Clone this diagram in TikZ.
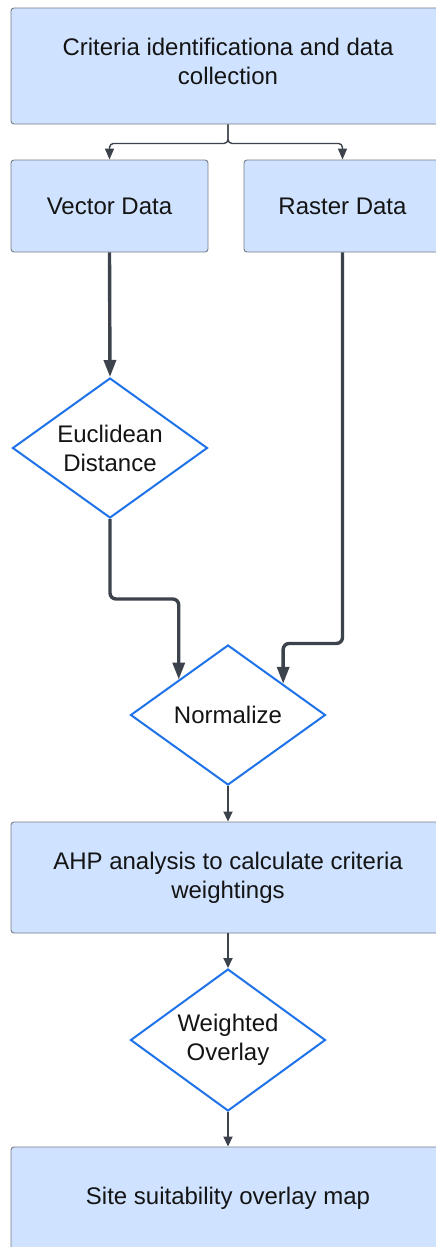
\documentclass[tikz,border=0pt]{standalone}
\usepackage{fontspec}
\setmainfont{Liberation Sans}
\usetikzlibrary{shapes.geometric,arrows.meta,calc}
\definecolor{boxfill}{RGB}{207,226,255}
\definecolor{boxline}{RGB}{120,126,138}
\definecolor{dia}{RGB}{30,115,232}
\definecolor{arr}{RGB}{61,67,77}
\definecolor{txt}{RGB}{20,20,20}
\tikzset{
  procbox/.style={draw=boxline, line width=0.9pt, fill=boxfill, rounded corners=3pt, inner sep=0pt, align=center, text=txt, font=\fontsize{24}{29}\selectfont},
  decbox/.style={diamond, draw=dia, line width=2pt, fill=white, aspect=1.393, inner sep=0pt, minimum width=195pt, minimum height=140pt, align=center, text=txt, font=\fontsize{24}{29}\selectfont},
  thinarr/.style={draw=arr, line width=1.8pt, -{Triangle[length=10pt,width=9pt]}},
  forkarr/.style={draw=arr, line width=1.4pt, rounded corners=4pt, -{Triangle[length=11pt,width=9pt]}},
  thickarr/.style={draw=arr, line width=3.4pt, rounded corners=6pt, -{Triangle[length=17pt,width=12pt]}}
}
\begin{document}
\begin{tikzpicture}[x=1pt,y=-1pt]
\clip (0,0) rectangle (436,1247);
\fill[white] (0,0) rectangle (436,1247);
\node[procbox, minimum width=434pt, minimum height=116pt, text depth=9pt] (top) at (228,66) {Criteria identificationa and data\\collection};
\node[procbox, minimum width=197pt, minimum height=92pt] (vec) at (109.5,206) {Vector Data};
\node[procbox, minimum width=197pt, minimum height=92pt] (ras) at (342.5,206) {Raster Data};
\node[decbox] (euc) at (110,448) {Euclidean\\Distance};
\node[decbox] (norm) at (228,715) {Normalize};
\node[procbox, minimum width=434pt, minimum height=111pt] (ahp) at (228,877.5) {AHP analysis to calculate criteria\\weightings};
\node[decbox, minimum height=142pt] (wo) at (228,1040) {Weighted\\Overlay};
\node[procbox, minimum width=434pt, minimum height=112pt, text depth=15pt] (site) at (228,1203) {Site suitability overlay map};
\coordinate (nl) at ($(norm.north)!0.5!(norm.west)$);
\coordinate (nr) at ($(norm.north)!0.56!(norm.east)$);
\draw[forkarr] (top.south) -- ++(0,19) -| (vec.north);
\draw[forkarr] (top.south) -- ++(0,19) -| (ras.north);
\draw[thickarr] (vec.south) -- (euc.north);
\draw[thickarr] (euc.south) -- ++(0,80) -| (nl);
\draw[thickarr] (ras.south) -- ++(0,391) -| (nr);
\draw[thinarr] (norm.south) -- (ahp.north);
\draw[thinarr] (ahp.south) -- (wo.north);
\draw[thinarr] (wo.south) -- (site.north);
\end{tikzpicture}
\end{document}
